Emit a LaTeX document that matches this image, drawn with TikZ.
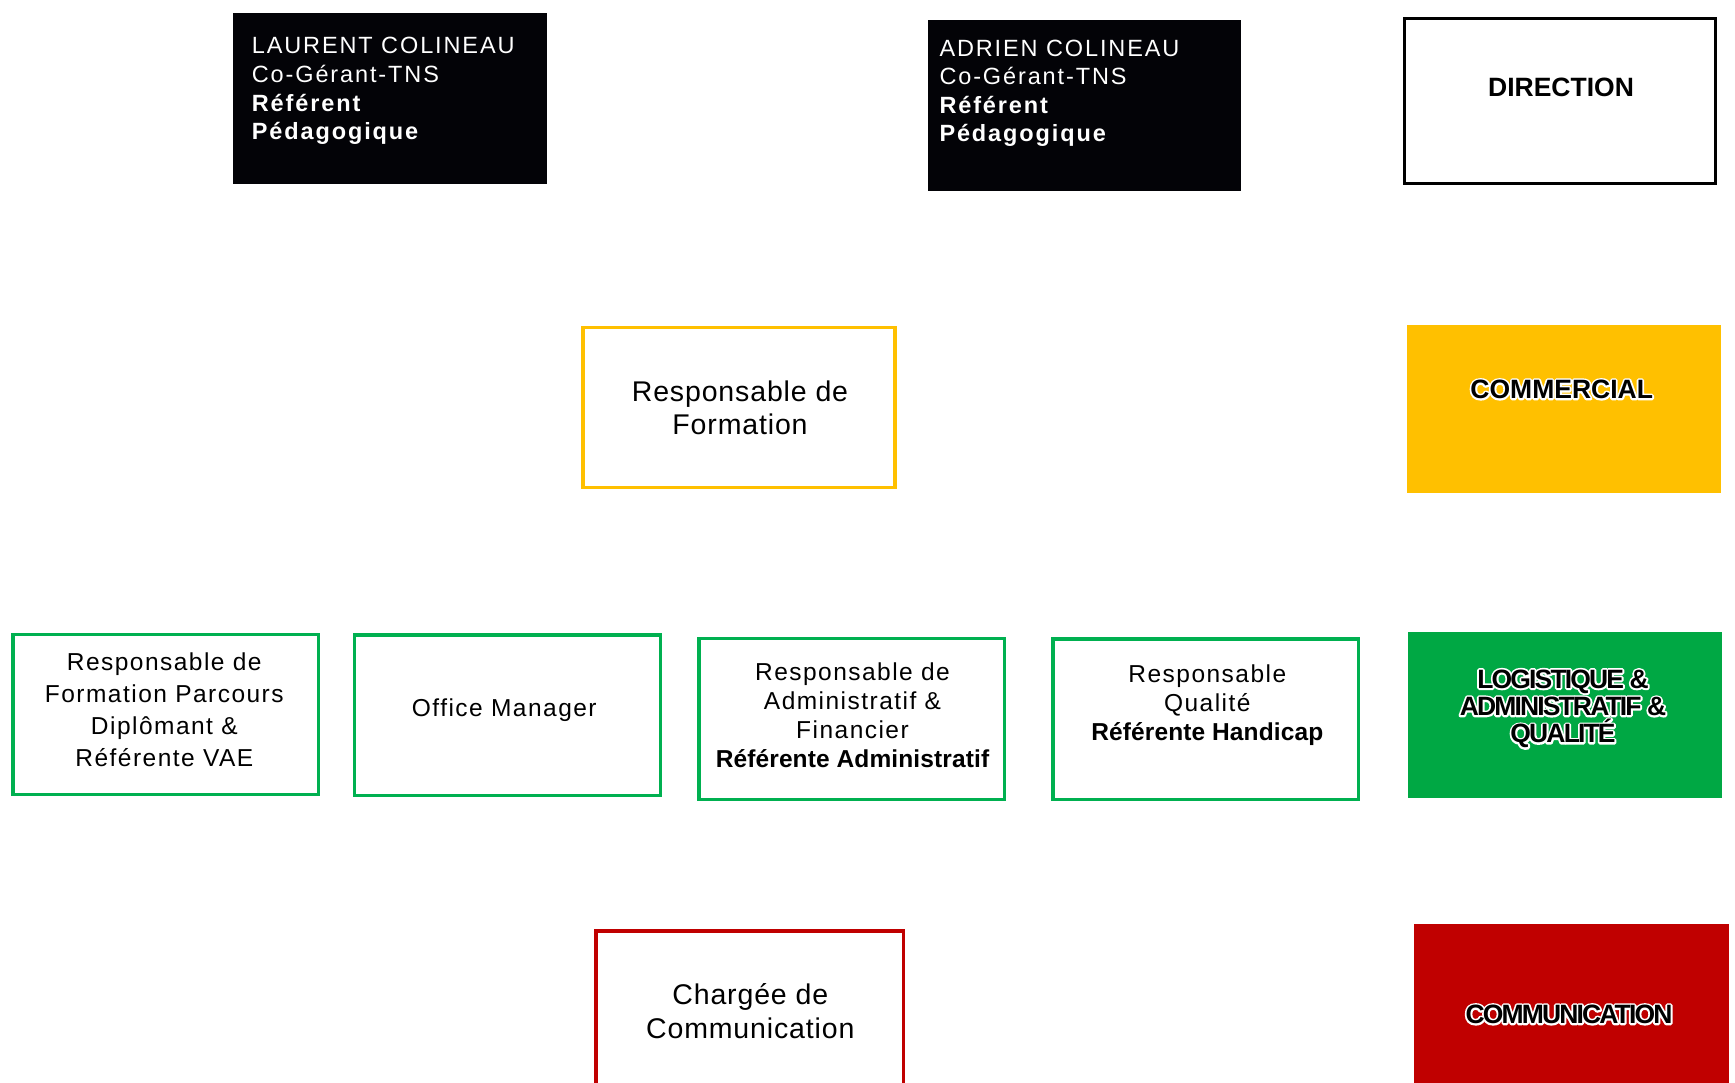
\documentclass[tikz,border=0pt]{standalone}
\usepackage{fontspec}
\setmainfont{Liberation Sans}
\newfontfamily\fblk[LetterSpace=8]{Liberation Sans}
\newfontfamily\fgrn[LetterSpace=6]{Liberation Sans}
\newfontfamily\fgrnb[LetterSpace=0.5]{Liberation Sans Bold}
\newfontfamily\fbig[LetterSpace=3]{Liberation Sans}
\newfontfamily\fhead{Liberation Sans Bold}
\newfontfamily\ftight[LetterSpace=-7]{Liberation Sans Bold}
\newfontfamily\fheadhalo[FakeBold=14]{Liberation Sans Bold}
\newfontfamily\ftighthalo[LetterSpace=-7,FakeBold=14]{Liberation Sans Bold}
\newcommand\outlined[2]{\makebox[0pt][l]{{\color{white}#1#2}}#2}
\definecolor{grn}{HTML}{00B050}
\definecolor{grnfill}{HTML}{00A844}
\definecolor{yel}{HTML}{FFC000}
\definecolor{redc}{HTML}{C00000}
\definecolor{blk}{HTML}{030307}
\tikzset{
  boxbase/.style={inner sep=0pt, outer sep=0pt},
  gbox/.style={boxbase, draw=grn, line width=3.2pt},
  ybox/.style={boxbase, draw=yel, line width=3.5pt},
  rbox/.style={boxbase, draw=redc, line width=3.5pt},
  kbox/.style={boxbase, draw=black, line width=3pt},
  blkbox/.style={boxbase, fill=blk},
  fillbox/.style={boxbase, fill=#1},
  blktxt/.style={text=white, align=left, anchor=north west, inner sep=0pt,
    font=\fblk\fontsize{23.5}{28.6}\selectfont},
  grntxt/.style={align=center, inner sep=0pt, anchor=north,
    font=\fgrn\fontsize{24.5}{#1}\selectfont},
  bigtxt/.style={align=center, inner sep=0pt, anchor=north,
    font=\fbig\fontsize{28.5}{#1}\selectfont},
  headtxt/.style={inner sep=0pt, anchor=base, line join=round,
    font=\fhead\fontsize{26.5}{27.3}\selectfont},
  tighttxt/.style={align=center, inner sep=0pt, line join=round,
    font=\ftight\fontsize{26.5}{27.3}\selectfont}
}
\begin{document}
\begin{tikzpicture}[x=1pt,y=-1pt]
\path[use as bounding box] (0,0) rectangle (1735,1083);

% top row
\node[blkbox, minimum width=314pt, minimum height=170.7pt] (laurent) at (390.3,98.65) {};
\node[blktxt] (laurentt) at (251.7,37.2) {LAURENT COLINEAU\\Co-Gérant-TNS\\\textbf{Référent}\\\textbf{Pédagogique}};

\node[blkbox, minimum width=312.7pt, minimum height=171pt] (adrien) at (1084.35,105.5) {};
\node[blktxt] (adrient) at (939.3,39.5) {ADRIEN COLINEAU\\Co-Gérant-TNS\\\textbf{Référent}\\\textbf{Pédagogique}};

\node[kbox, minimum width=311pt, minimum height=165.6pt] (direction) at (1559.7,101) {};
\node[headtxt] (directiont) at (1561,96.7) {DIRECTION};

% second row
\node[ybox, minimum width=312.2pt, minimum height=159.8pt] (respform) at (738.85,407.65) {};
\node[bigtxt=33.3pt] (respformt) at (740,380.3) {Responsable de\\Formation};

\node[fillbox=yel, minimum width=314pt, minimum height=168.3pt] (commercial) at (1563.7,409.15) {};
\node[headtxt] (commercialt) at (1561.7,398.5) {\outlined{\fheadhalo}{COMMERCIAL}};

% third row
\node[gbox, minimum width=305.5pt, minimum height=160.1pt] (parcours) at (165.65,714.35) {};
\node[grntxt=32.1pt] (parcourst) at (164.3,652.5) {Responsable de\\Formation Parcours\\Diplômant \&\\Référente VAE};

\node[gbox, minimum width=306.4pt, minimum height=160.2pt] (office) at (507.5,715) {};
\node[grntxt=30pt, anchor=base] (officet) at (504.3,716.7) {Office Manager};

\node[gbox, minimum width=305.5pt, minimum height=160.8pt] (admin) at (851.65,718.7) {};
\node[grntxt=28.9pt] (admint) at (852.5,662.5) {Responsable de\\Administratif \&\\Financier\\{\fgrnb Référente Administratif}};

\node[gbox, minimum width=305.5pt, minimum height=160.2pt] (qualite) at (1205.65,719) {};
\node[grntxt=29.2pt] (qualitet) at (1207.3,664.2) {Responsable\\Qualité\\{\fgrnb Référente Handicap}};

\node[fillbox=grnfill, minimum width=314pt, minimum height=165.4pt] (logistique) at (1564.7,715) {};
\node[tighttxt, anchor=north] (logistiquet) at (1563,669.5) {\outlined{\ftighthalo}{LOGISTIQUE \&}\\\outlined{\ftighthalo}{ADMINISTRATIF \&}\\\outlined{\ftighthalo}{QUALITÉ}};

% bottom row
\node[rbox, minimum width=307.5pt, minimum height=177.5pt] (chargee) at (749.5,1019.5) {};
\node[bigtxt=34.3pt] (chargeet) at (750.3,983.3) {Chargée de\\Communication};

\node[fillbox=redc, minimum width=315pt, minimum height=185.7pt] (communication) at (1571.5,1017.15) {};
\node[tighttxt, anchor=base] (communicationt) at (1569,1023.5) {\outlined{\ftighthalo}{COMMUNICATION}};
\end{tikzpicture}
\end{document}
